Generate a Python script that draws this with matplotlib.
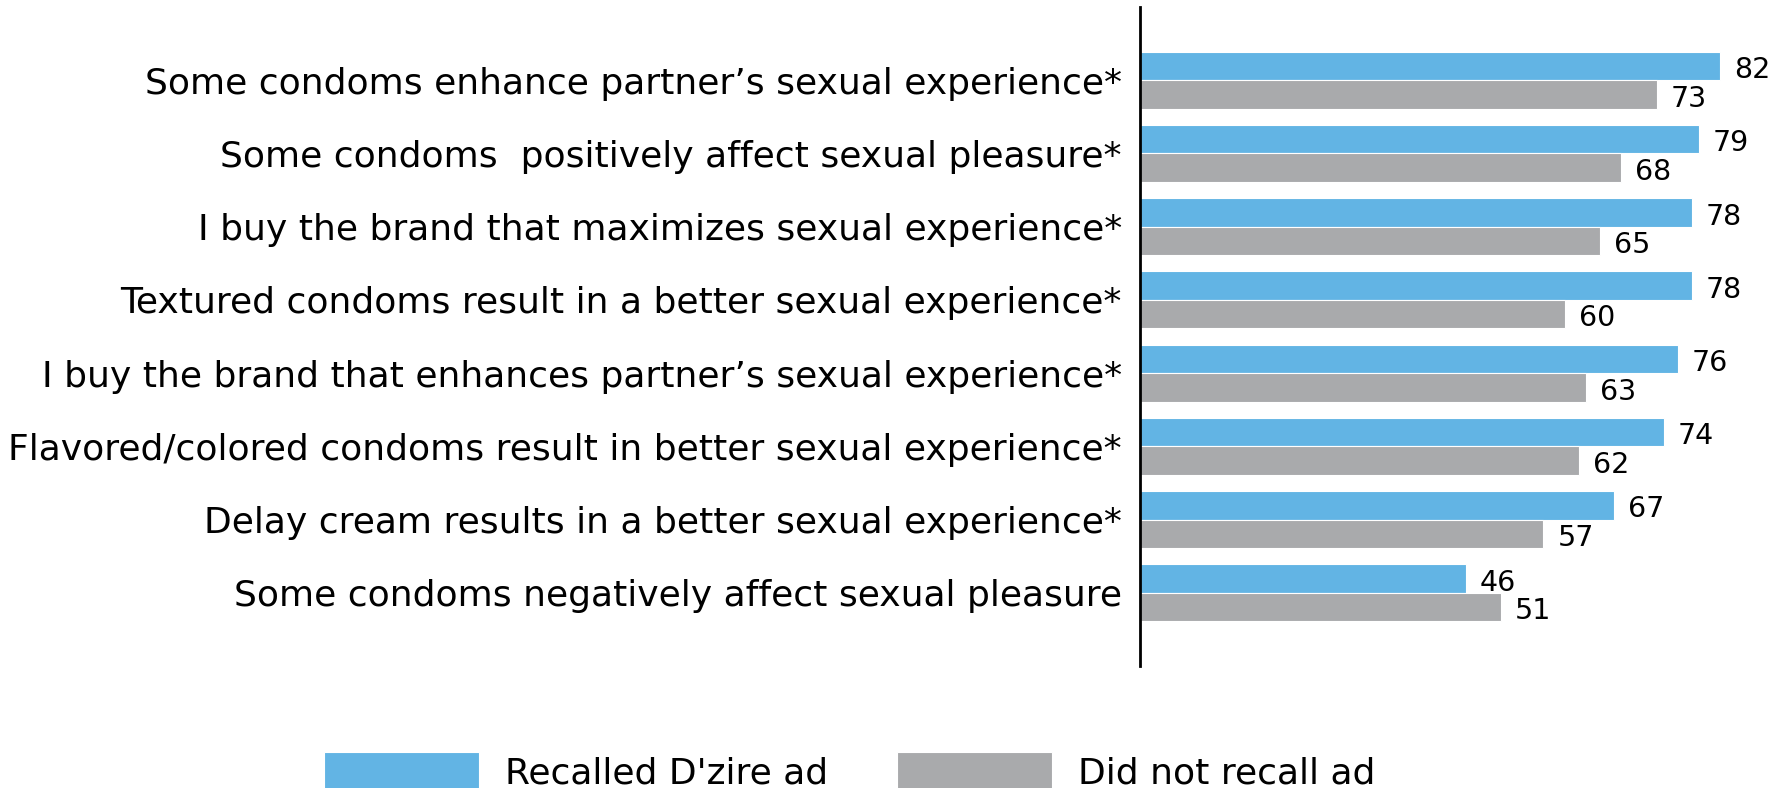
import numpy as np
import matplotlib
matplotlib.use("Agg")
import matplotlib.pyplot as plt

categories = [
    "Some condoms enhance partner’s sexual experience*",
    "Some condoms  positively affect sexual pleasure*",
    "I buy the brand that maximizes sexual experience*",
    "Textured condoms result in a better sexual experience*",
    "I buy the brand that enhances partner’s sexual experience*",
    "Flavored/colored condoms result in better sexual experience*",
    "Delay cream results in a better sexual experience*",
    "Some condoms negatively affect sexual pleasure",
]
recalled = [82, 79, 78, 78, 76, 74, 67, 46]
not_recalled = [73, 68, 65, 60, 63, 62, 57, 51]
series_names = ["Recalled D'zire ad", "Did not recall ad"]

BLUE = "#62B4E4"
GREY = "#A9AAAC"

plt.rcParams["font.family"] = ["DejaVu Sans"]

fig = plt.figure(figsize=(17.85, 7.88), dpi=100)
ax = fig.add_axes([1140 / 1785, 1 - 666 / 788, 637 / 1785, 659 / 788])

y = np.arange(len(categories))
h = 0.39
b1 = ax.barh(y - h / 2, recalled, height=h, color=BLUE, edgecolor="white", linewidth=0.8,
             label=series_names[0])
b2 = ax.barh(y + h / 2, not_recalled, height=h, color=GREY, edgecolor="white", linewidth=0.8,
             label=series_names[1])

# value labels just right of each bar
for bars, vals in ((b1, recalled), (b2, not_recalled)):
    for bar, v in zip(bars, vals):
        ax.annotate(str(v), (bar.get_width(), bar.get_y() + bar.get_height() / 2),
                    xytext=(10, -3), textcoords="offset points",
                    ha="left", va="center", fontsize=20.5, color="black")

ax.set_xlim(0, 90)
ax.set_ylim(8, -1)
ax.set_yticks(y)
ax.set_yticklabels(categories, fontsize=26)
ax.tick_params(axis="y", length=0, pad=13)
ax.set_xticks([])
for s in ("top", "right", "bottom"):
    ax.spines[s].set_visible(False)
ax.spines["left"].set_linewidth(2)
ax.spines["left"].set_color("black")

fig.legend(handles=[b1, b2], labels=series_names, loc="center left",
           bbox_to_anchor=(324 / 1785, 1 - 771 / 788), ncol=2, frameon=False,
           fontsize=26, handlelength=4.3, handleheight=1.25, handletextpad=0.72,
           columnspacing=1.9, borderpad=0, borderaxespad=0)

fig.savefig("out.png", dpi=100)
